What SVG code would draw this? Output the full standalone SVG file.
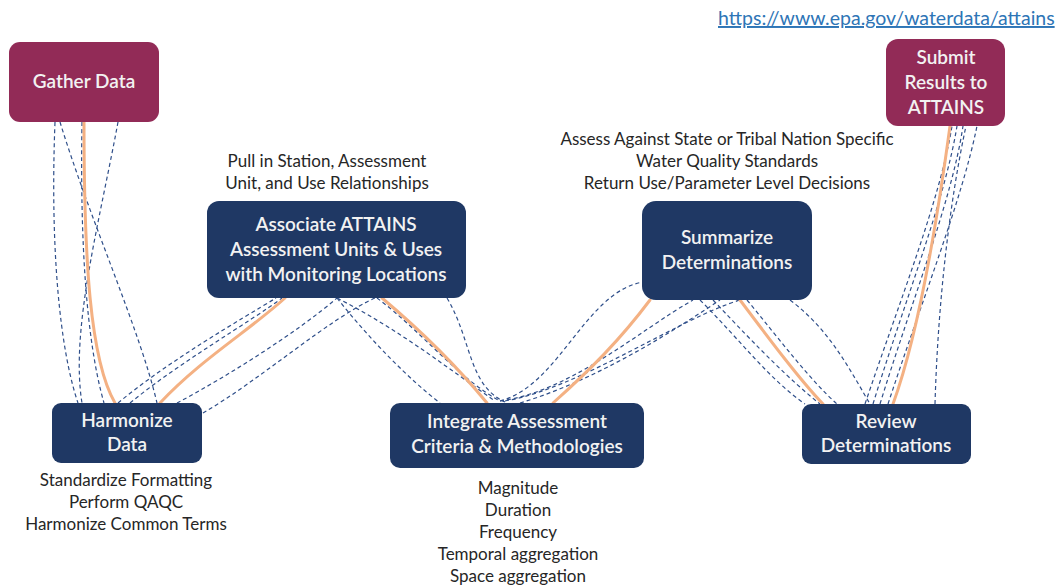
<svg xmlns="http://www.w3.org/2000/svg" width="1060" height="586" viewBox="0 0 1060 586">
  <style>
    .bg { fill: #ffffff; }
    .step { fill: #1f3864; }
    .end { fill: #922b57; }
    .label { font-family: Lato, "Open Sans", "Liberation Sans", sans-serif; font-size: 19px; font-weight: 600; fill: #f2f2f2; text-anchor: middle; }
    .note { font-family: Lato, "Open Sans", "Liberation Sans", sans-serif; font-size: 17px; fill: #262626; text-anchor: middle; }
    .link { font-family: Lato, "Open Sans", "Liberation Sans", sans-serif; font-size: 19.5px; fill: #2e75b6; text-decoration: underline; }
    .flow { fill: none; stroke: #f4b183; stroke-width: 3; stroke-linecap: round; }
    .alt { fill: none; stroke: #2f4f8a; stroke-width: 1.2; stroke-dasharray: 4 3; }
  </style>

  <rect class="bg" x="0" y="0" width="1060" height="586"/>

  <text class="link" x="718" y="25">https://www.epa.gov/waterdata/attains</text>

  <!-- connectors: dashed alternatives and the main orange path -->
  <g id="connectors">
    <!-- Gather Data to Harmonize Data -->
    <path class="alt" d="M55,122 C50,250 60,350 78,403"/>
    <path class="alt" d="M60,122 C90,220 140,330 157,403"/>
    <path class="alt" d="M118,122 C100,220 70,330 82,403"/>
    <path class="alt" d="M82,122 C80,240 86,340 104,403"/>
    <!-- Harmonize Data to Associate -->
    <path class="alt" d="M118,403 C170,360 240,320 276,298"/>
    <path class="alt" d="M130,403 C180,362 250,322 282,298"/>
    <path class="alt" d="M177,403 C230,375 300,330 337,298"/>
    <path class="alt" d="M203,413 C260,380 330,318 375,298"/>
    <!-- Associate to Integrate -->
    <path class="alt" d="M337,298 C370,340 410,380 440,403"/>
    <path class="alt" d="M337,298 C400,330 450,370 495,401"/>
    <path class="alt" d="M377,298 C420,330 460,380 500,401"/>
    <path class="alt" d="M447,298 C472,340 468,385 505,402"/>
    <!-- Integrate to Summarize -->
    <path class="alt" d="M500,401 C560,385 585,292 643,282"/>
    <path class="alt" d="M500,401 C570,392 640,330 693,300"/>
    <path class="alt" d="M505,401 C580,388 680,318 740,300"/>
    <path class="alt" d="M520,403 C590,382 660,340 720,300"/>
    <!-- Summarize to Review -->
    <path class="alt" d="M700,300 C740,340 770,380 805,404"/>
    <path class="alt" d="M713,300 C760,350 790,380 820,404"/>
    <path class="alt" d="M747,300 C780,340 810,380 837,404"/>
    <path class="alt" d="M790,300 C830,330 850,370 870,404"/>
    <!-- Review to Submit -->
    <path class="alt" d="M865,404 C900,300 940,200 952,126"/>
    <path class="alt" d="M873,404 C905,300 945,200 957,126"/>
    <path class="alt" d="M880,404 C912,300 952,200 963,126"/>
    <path class="alt" d="M888,404 C922,300 962,200 977,126"/>
    <path class="alt" d="M935,404 C938,300 950,200 966,126"/>

    <!-- main path -->
    <path class="flow" d="M84,122 C84,260 90,360 115,403"/>
    <path class="flow" d="M160,403 C200,360 250,330 285,298"/>
    <path class="flow" d="M382,298 C420,330 460,370 487,403"/>
    <path class="flow" d="M553,403 C590,370 620,340 650,300"/>
    <path class="flow" d="M740,300 C770,340 800,380 823,404"/>
    <path class="flow" d="M893,404 C920,330 940,200 950,126"/>
  </g>

  <g id="gather-data">
    <rect class="end" x="9" y="42" width="150" height="80" rx="11"/>
    <text class="label" x="84" y="88">Gather Data</text>
  </g>

  <g id="harmonize-data">
    <rect class="step" x="52" y="403" width="150" height="60" rx="9"/>
    <text class="label" x="127" y="427">Harmonize</text>
    <text class="label" x="127" y="451">Data</text>
    <text class="note" x="126" y="486">Standardize Formatting</text>
    <text class="note" x="126" y="508">Perform QAQC</text>
    <text class="note" x="126" y="530">Harmonize Common Terms</text>
  </g>

  <g id="associate">
    <text class="note" x="327" y="167">Pull in Station, Assessment</text>
    <text class="note" x="327" y="189">Unit, and Use Relationships</text>
    <rect class="step" x="207" y="201" width="259" height="97" rx="12"/>
    <text class="label" x="336" y="231">Associate ATTAINS</text>
    <text class="label" x="336" y="256">Assessment Units &amp; Uses</text>
    <text class="label" x="336" y="281">with Monitoring Locations</text>
  </g>

  <g id="integrate">
    <rect class="step" x="390" y="403" width="254" height="65" rx="10"/>
    <text class="label" x="517" y="428">Integrate Assessment</text>
    <text class="label" x="517" y="453">Criteria &amp; Methodologies</text>
    <text class="note" x="518" y="494">Magnitude</text>
    <text class="note" x="518" y="516">Duration</text>
    <text class="note" x="518" y="538">Frequency</text>
    <text class="note" x="518" y="560">Temporal aggregation</text>
    <text class="note" x="518" y="582">Space aggregation</text>
  </g>

  <g id="summarize">
    <text class="note" x="727" y="145">Assess Against State or Tribal Nation Specific</text>
    <text class="note" x="727" y="167">Water Quality Standards</text>
    <text class="note" x="727" y="189">Return Use/Parameter Level Decisions</text>
    <rect class="step" x="642" y="201" width="170" height="99" rx="14"/>
    <text class="label" x="727" y="244">Summarize</text>
    <text class="label" x="727" y="269">Determinations</text>
  </g>

  <g id="review">
    <rect class="step" x="802" y="404" width="169" height="60" rx="9"/>
    <text class="label" x="886" y="428">Review</text>
    <text class="label" x="886" y="452">Determinations</text>
  </g>

  <g id="submit">
    <rect class="end" x="886" y="39" width="119" height="87" rx="12"/>
    <text class="label" x="946" y="64">Submit</text>
    <text class="label" x="946" y="89">Results to</text>
    <text class="label" x="946" y="114">ATTAINS</text>
  </g>
</svg>
